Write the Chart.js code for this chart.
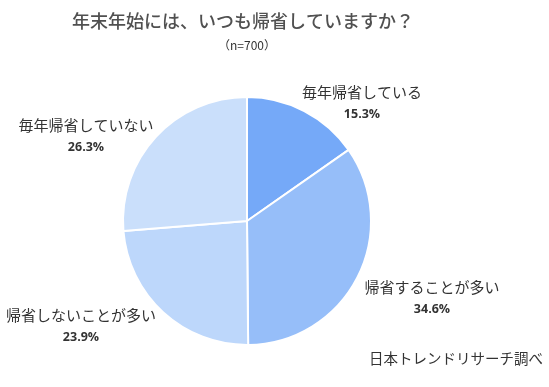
<!DOCTYPE html>
<html>
<head>
<meta charset="utf-8">
<script src="https://cdn.jsdelivr.net/npm/chart.js@4"></script>
<style>
  html, body { margin: 0; padding: 0; background: #fff; }
  #wrap { position: relative; width: 549px; height: 387px; }
</style>
</head>
<body>
<div id="wrap"><canvas id="pieChart" width="549" height="387"></canvas></div>
<script>
// 年末年始の帰省 (n=700)
const labels = ['毎年帰省している', '帰省することが多い', '帰省しないことが多い', '毎年帰省していない'];
const values = [15.3, 34.6, 23.9, 26.3];
const colors = ['#75a9f8', '#96bef9', '#bdd7fb', '#cadffb'];

// where each label sits (center of text block)
const labelPos = [[362, 92], [432, 287], [81, 315], [86, 125]];

const labelPlugin = {
    id: 'sliceLabels',
    afterDraw(chart) {
        const ctx = chart.ctx;
        ctx.save();
        ctx.textAlign = 'center';
        ctx.textBaseline = 'middle';
        chart.getDatasetMeta(0).data.forEach((arc, i) => {
            const [x, y] = labelPos[i];
            ctx.fillStyle = '#333';
            ctx.font = '15px "Noto Sans CJK JP"';
            ctx.fillText(labels[i], x, y);
            ctx.font = 'bold 12.5px "Open Sans", "Noto Sans"';
            ctx.fillText(values[i].toFixed(1) + '%', x, y + 22);
        });
        // title and source
        ctx.fillStyle = '#505050';
        ctx.font = '500 18px "Noto Sans CJK JP"';
        ctx.fillText('年末年始には、いつも帰省していますか？', 243, 21);
        ctx.fillStyle = '#333';
        ctx.font = '12px "Noto Sans CJK JP"';
        ctx.fillText('（n=700）', 247, 45);
        ctx.font = '14.5px "Noto Sans CJK JP"';
        ctx.textAlign = 'left';
        ctx.fillText('日本トレンドリサーチ調べ', 369, 358);
        ctx.restore();
    }
};

new Chart(document.getElementById('pieChart'), {
    type: 'pie',
    data: {
        labels: labels,
        datasets: [{
            data: values,
            backgroundColor: colors,
            borderColor: '#fff',
            borderWidth: 2
        }]
    },
    options: {
        responsive: false,
        animation: false,
        layout: { padding: { left: 122, right: 177, top: 96, bottom: 41 } },
        plugins: {
            legend: { display: false },
            tooltip: { enabled: false }
        }
    },
    plugins: [labelPlugin]
});
</script>
</body>
</html>
